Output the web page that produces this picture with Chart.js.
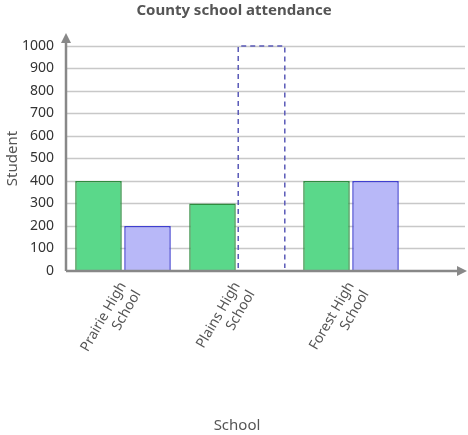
<!DOCTYPE html>
<html><head><meta charset="utf-8">
<script src="https://cdn.jsdelivr.net/npm/chart.js@4/dist/chart.umd.min.js"></script>
<style>html,body{margin:0;padding:0;background:#fff}#w{width:468px;height:435px}</style>
</head><body><div id="w"><canvas id="c"></canvas></div>
<script>
const categories = [["Prairie High","School"],["Plains High","School"],["Forest High","School"]];
const seriesA = [400, 300, 400];
const seriesB = [200, null, 400];
const placeholder = [null, 1000, null];
const yTicks = [0,100,200,300,400,500,600,700,800,900,1000];
const titleText = 'County school attendance';
const F = "'Noto Sans', 'DejaVu Sans', sans-serif";
const axisColor = '#888';
const extendRight = 465;

const deco = {
  id: 'deco',
  beforeDatasetsDraw(chart) {
    const {ctx, chartArea: a, scales: {y}} = chart;
    ctx.save();
    ctx.strokeStyle = '#c8c8c8'; ctx.lineWidth = 1.5;
    yTicks.forEach(v => { if (v === 0) return; const py = Math.round(y.getPixelForValue(v)) + 0.5;
      ctx.beginPath(); ctx.moveTo(a.left, py); ctx.lineTo(extendRight, py); ctx.stroke(); });
    ctx.fillStyle = '#555'; ctx.font = 'bold 15px ' + F; ctx.textAlign = 'center'; ctx.textBaseline = 'middle';
    ctx.fillText(titleText, chart.width / 2, 11);
    ctx.restore();
  },
  afterDatasetsDraw(chart) {
    const {ctx, chartArea: a, scales: {y}} = chart;
    ctx.save();
    const meta = chart.getDatasetMeta(2);
    meta.data.forEach((el, i) => {
      if (placeholder[i] == null) return;
      const p = el.getProps(['x','y','base','width'], true);
      ctx.strokeStyle = '#5a5ab8'; ctx.lineWidth = 1.5; ctx.setLineDash([5,4]);
      const l = p.x - p.width/2, r = p.x + p.width/2;
      ctx.beginPath(); ctx.moveTo(l, p.base - 3); ctx.lineTo(l, p.y); ctx.lineTo(r, p.y); ctx.lineTo(r, p.base - 3); ctx.stroke();
    });
    ctx.setLineDash([]);
    const y0 = y.getPixelForValue(0);
    ctx.strokeStyle = axisColor; ctx.fillStyle = axisColor; ctx.lineWidth = 2.5;
    ctx.beginPath(); ctx.moveTo(a.left, y0); ctx.lineTo(extendRight - 6, y0); ctx.stroke();
    ctx.beginPath(); ctx.moveTo(a.left, y0); ctx.lineTo(a.left, a.top - 6); ctx.stroke();
    ctx.beginPath(); ctx.moveTo(extendRight + 2, y0); ctx.lineTo(extendRight - 8, y0 - 5); ctx.lineTo(extendRight - 8, y0 + 5); ctx.fill();
    ctx.beginPath(); ctx.moveTo(a.left, a.top - 13); ctx.lineTo(a.left - 5, a.top - 3); ctx.lineTo(a.left + 5, a.top - 3); ctx.fill();
    ctx.restore();
  }
};

new Chart(document.getElementById('c'), {
  type: 'bar',
  data: { labels: categories, datasets: [
    { data: seriesA, backgroundColor: '#5ad88a', borderColor: '#2e8b3e', borderWidth: 1.5, stack: 'a' },
    { data: seriesB, backgroundColor: '#b8b8f8', borderColor: '#3f3fcf', borderWidth: 1.5, stack: 'b' },
    { data: placeholder, backgroundColor: 'rgba(0,0,0,0)', borderWidth: 0, stack: 'b' }
  ]},
  options: {
    responsive: true, maintainAspectRatio: false, animation: false,
    categoryPercentage: 0.86, barPercentage: 0.95,
    layout: { padding: { top: 46, right: 60, left: 0, bottom: 0 } },
    plugins: { legend: { display: false }, tooltip: { enabled: false }, title: { display: false } },
    scales: {
      x: { stacked: true, grid: { display: false }, border: { display: false },
        ticks: { color: '#555', font: { family: F, size: 14 }, maxRotation: 60, minRotation: 60, padding: 0 },
        title: { display: true, text: 'School', color: '#555', font: { family: F, size: 15 }, padding: { top: 54, bottom: 0 } } },
      y: { stacked: true, min: 0, max: 1000, grid: { display: false }, border: { display: false },
        afterBuildTicks: ax => { ax.ticks = yTicks.map(v => ({ value: v })); },
        afterFit: ax => { ax.width = 66; },
        ticks: { color: '#333', font: { family: F, size: 14 }, padding: 4, callback: v => String(v) },
        title: { display: true, text: 'Student', color: '#555', font: { family: F, size: 15 }, padding: { bottom: 0 } } }
    }
  },
  plugins: [deco]
});
</script></body></html>
